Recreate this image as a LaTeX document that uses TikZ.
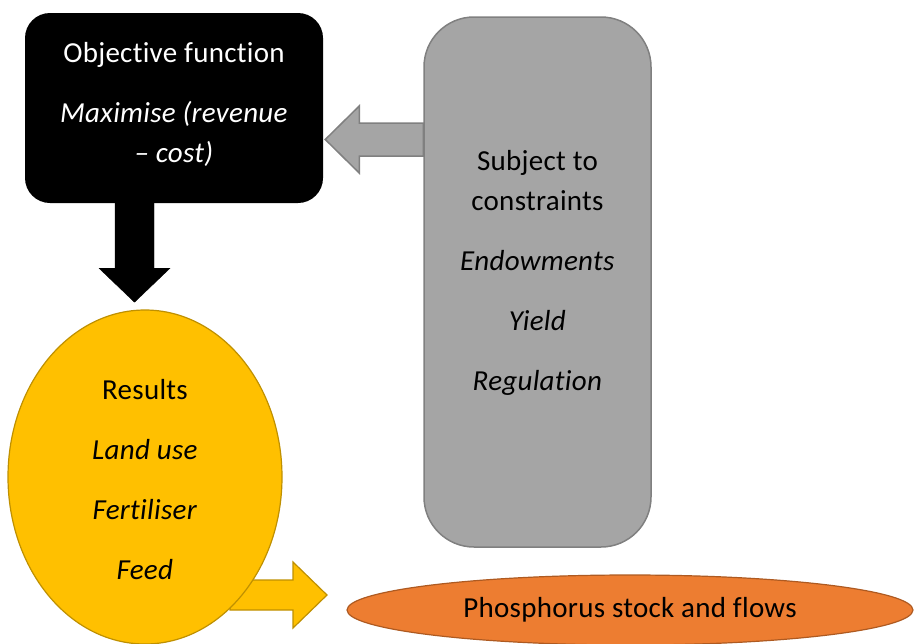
\documentclass[tikz,border=0pt]{standalone}
\usepackage{fontspec}
\setmainfont{Carlito}[Ligatures=NoCommon,LetterSpace=1]
\usetikzlibrary{calc,shapes.geometric,backgrounds}
\definecolor{boxgray}{HTML}{A5A5A5}
\definecolor{linegray}{HTML}{808080}
\definecolor{resyellow}{HTML}{FFC000}
\definecolor{lineyellow}{HTML}{BF9000}
\definecolor{phorange}{HTML}{ED7D31}
\definecolor{lineorange}{HTML}{AE5A21}
\tikzset{
	boxtext/.style={align=center, font=\fontsize{29}{40}\selectfont},
}

\begin{document}
\begin{tikzpicture}[x=1pt,y=-1pt]
			%%%%% START %%%%%
			\useasboundingbox (0,0) rectangle (915,643);
			
			\node[fill=black, rounded corners=25pt, minimum width=298pt, minimum height=190pt] (obj) at (174,108) {};
			\node[boxtext, text=white] (objtext) at ($(obj.center)+(0,-4)$) {Objective function\\[20pt]\textit{Maximise (revenue}\\\textit{– cost)}};
			
			\node[fill=boxgray, draw=linegray, line width=1.5pt, rounded corners=50pt, minimum width=227pt, minimum height=530pt] (cons) at (537.5,282) {};
			\node[boxtext] (constext) at ($(cons.center)+(0,-9.5)$) {Subject to\\constraints\\[20pt]\textit{Endowments}\\[20pt]\textit{Yield}\\[20pt]\textit{Regulation}};
			
			\node[ellipse, fill=resyellow, draw=lineyellow, line width=1.2pt, minimum width=274pt, minimum height=334pt] (res) at (145,477) {};
			\node[boxtext] (restext) at ($(res.center)+(0,3)$) {Results\\[20pt]\textit{Land use}\\[20pt]\textit{Fertiliser}\\[20pt]\textit{Feed}};
			
			\node[boxtext, ellipse, fill=phorange, draw=lineorange, line width=1.2pt, minimum width=566pt, minimum height=70pt] (pho) at (630,610) {Phosphorus stock and flows};
			
			\begin{scope}[on background layer]
			\draw[fill=black] ($(obj.south)+(-59,0)$) -- ++(0,65) -- ++(-16,0) -- ++(35.5,34) -- ++(35.5,-34) -- ++(-16,0) -- ++(0,-65) -- cycle;
			\draw[fill=boxgray, draw=linegray, line width=1.5pt] ($(obj.east -| cons.west)+(0,15)$) -- ++(-64,0) -- ++(0,-17) -- ++(-34,33.5) -- ++(34,33.5) -- ++(0,-17) -- ++(64,0) -- cycle;
			\draw[fill=resyellow, draw=lineyellow, line width=1.2pt] ($(res.center)+(85,103)$) -- ++(63,0) -- ++(0,-18) -- ++(34,33) -- ++(-34,33) -- ++(0,-18) -- ++(-63,0) -- cycle;
			\end{scope}
			
			%%%%% END %%%%%
\end{tikzpicture}
\end{document}
